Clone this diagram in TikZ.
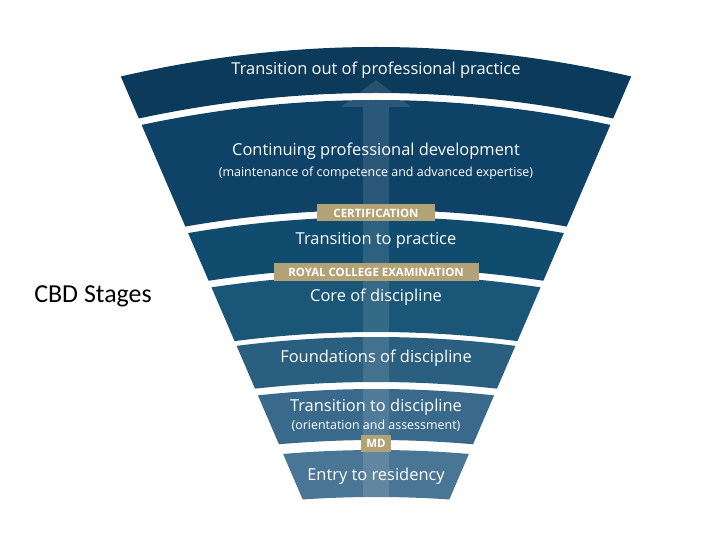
\documentclass[tikz,border=0pt]{standalone}
\usepackage{fontspec}
\setmainfont{Open Sans}
\newfontfamily\calib{Carlito}
\newcommand\fanband[3]{%
  \pgfmathsetmacro\wt{0.43*(670-#1)}\pgfmathsetmacro\et{#1+4.66e-4*\wt*\wt}%
  \pgfmathsetmacro\wt{0.43*(670-\et)}\pgfmathsetmacro\et{#1+4.66e-4*\wt*\wt}%
  \pgfmathsetmacro\wt{0.43*(670-\et)}%
  \pgfmathsetmacro\wb{0.43*(670-#2)}\pgfmathsetmacro\eb{#2+4.66e-4*\wb*\wb}%
  \pgfmathsetmacro\wb{0.43*(670-\eb)}\pgfmathsetmacro\eb{#2+4.66e-4*\wb*\wb}%
  \pgfmathsetmacro\wb{0.43*(670-\eb)}%
  \pgfmathsetmacro\ct{(4*#1-\et)/3}\pgfmathsetmacro\cb{(4*#2-\eb)/3}%
  \fill[#3] (376-\wt,\et) .. controls (376-\wt/3,\ct) and (376+\wt/3,\ct) .. (376+\wt,\et)
    -- (376+\wb,\eb) .. controls (376+\wb/3,\cb) and (376-\wb/3,\cb) .. (376-\wb,\eb) -- cycle;}
\definecolor{band1}{HTML}{0B3A5B}
\definecolor{band2}{HTML}{0E4266}
\definecolor{band3}{HTML}{0F4C6E}
\definecolor{band4}{HTML}{1A5677}
\definecolor{band5}{HTML}{2A5F80}
\definecolor{band6}{HTML}{3A6A8B}
\definecolor{band7}{HTML}{4A7696}
\definecolor{gold}{HTML}{B3A276}
\begin{document}
\begin{tikzpicture}[x=1bp,y=-1bp,
  stage/.style={text=white,font=\fontsize{16.5}{16.5}\selectfont},
  substage/.style={text=white,font=\fontsize{12.5}{12.5}\selectfont},
  milestone/.style={fill=gold,text=white,font=\bfseries\fontsize{11.5}{11.5}\selectfont,inner sep=2.5bp,minimum height=17bp}]

\useasboundingbox (0,0) rectangle (720,540);

% bands
\fanband{47}{93}{band1}
\fanband{100}{210}{band2}
\fanband{217}{268}{band3}
\fanband{275}{332}{band4}
\fanband{337}{382}{band5}
\fanband{389}{440}{band6}
\fanband{450}{497}{band7}

% arrow
\fill[white,opacity=0.12] (363,497) -- (363,107) -- (341,107) -- (376,80) -- (411,107) -- (389,107) -- (389,497) -- cycle;

% labels
\node[stage] (out) at (376,70) {Transition out of professional practice};
\node[stage] (cpd) at (376,151) {Continuing professional development};
\node[substage] (cpdsub) at (376,173) {(maintenance of competence and advanced expertise)};
\node[stage] (ttp) at (376,240) {Transition to practice};
\node[stage] (core) at (376,297) {Core of discipline};
\node[stage] (found) at (376,358) {Foundations of discipline};
\node[stage] (ttd) at (376,407) {Transition to discipline};
\node[substage] (ttdsub) at (376,426) {(orientation and assessment)};
\node[stage] (entry) at (376,476) {Entry to residency};

% milestones
\node[milestone,minimum width=118bp] (cert) at (376,213) {CERTIFICATION};
\node[milestone,minimum width=205bp] (rce) at (376,272) {ROYAL COLLEGE EXAMINATION};
\node[milestone,minimum width=30bp] (md) at (376,443) {MD};

\node[font=\calib\fontsize{26}{26}\selectfont] (title) at (93,296) {CBD Stages};
\end{tikzpicture}
\end{document}
